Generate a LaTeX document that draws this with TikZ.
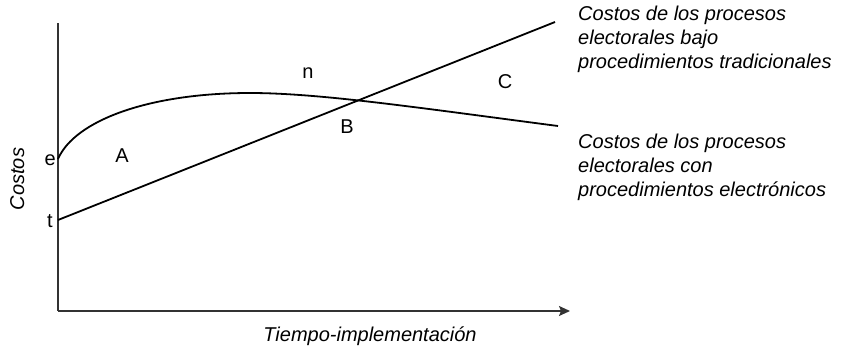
\documentclass[tikz,border=0pt]{standalone}
\usepackage{fontspec}
\setmainfont{Liberation Sans}
\usetikzlibrary{arrows.meta}
\begin{document}
\begin{tikzpicture}[x=1pt,y=-1pt,
  lbl/.style={font=\fontsize{20}{24}\selectfont, inner sep=0pt},
  ilbl/.style={lbl, font=\fontsize{20}{24}\selectfont\itshape},
  axis/.style={line width=1.4pt, black!80},
  curve/.style={line width=1.8pt, black}]
\useasboundingbox (0,0) rectangle (847,346);
% axes
\coordinate (top) at (58,23);
\coordinate (org) at (58,311);
\coordinate (xend) at (570,311);
\draw[axis] (top) -- (org);
\draw[axis, -{Stealth[length=11pt,width=10pt,inset=2pt]}] (org) -- (xend);
% lines
\coordinate (e0) at (58,159);
\coordinate (peak) at (250,93);
\coordinate (eend) at (558,126);
\coordinate (t0) at (58,220);
\coordinate (tend) at (555,22);
\draw[curve] (t0) -- (tend);
\draw[curve] (e0) .. controls (75,120) and (150,93) .. (peak)
  .. controls (320,93) and (420,108) .. (eend);
% labels
\node[lbl, anchor=base east] (le) at (56,165) {e};
\node[lbl, anchor=base east] (lt) at (53,227) {t};
\node[lbl, anchor=base] (lA) at (122,162) {A};
\node[lbl, anchor=base] (ln) at (308,78) {n};
\node[lbl, anchor=base] (lB) at (347,133) {B};
\node[lbl, anchor=base] (lC) at (505,88) {C};
\node[ilbl, rotate=90, anchor=base] (costos) at (24,179) {Costos};
\node[ilbl, anchor=base] (tiempo) at (370,341) {Tiempo-implementación};
\node[ilbl, anchor=base west, align=left] (trad) at (578,68)
  {Costos de los procesos\\electorales bajo\\procedimientos tradicionales};
\node[ilbl, anchor=base west, align=left] (elec) at (578,196)
  {Costos de los procesos\\electorales con\\procedimientos electrónicos};
\end{tikzpicture}
\end{document}
